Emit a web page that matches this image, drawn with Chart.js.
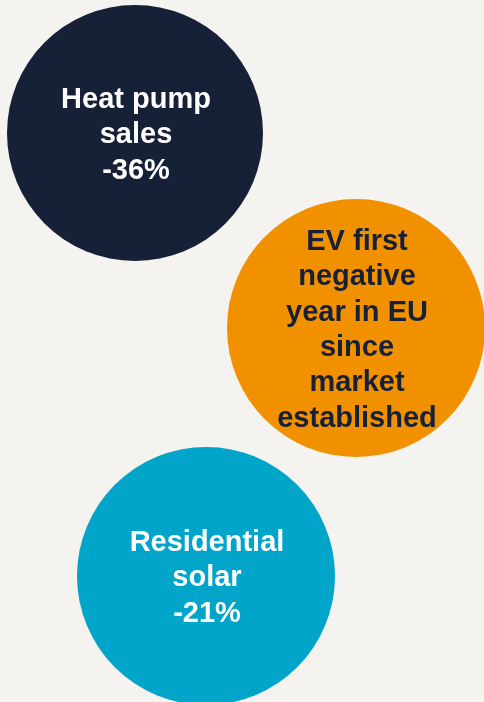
<!DOCTYPE html>
<html>
<head>
<meta charset="utf-8">
<script src="https://cdn.jsdelivr.net/npm/chart.js@4/dist/chart.umd.min.js"></script>
<style>
  html, body { margin: 0; padding: 0; background: #f4f3f0; }
  #wrap { width: 484px; height: 702px; position: relative; }
</style>
</head>
<body>
<div id="wrap"><canvas id="bubbles"></canvas></div>
<script>
// bubble centres and radii, in the chart's own units
const bubbleX = [135, 356, 206];
const bubbleY = [133, 328, 576];
const bubbleR = [128, 129, 129];
const bubbleLabels = [
    ['Heat pump', 'sales', '-36%'],
    ['EV first', 'negative', 'year in EU', 'since', 'market', 'established'],
    ['Residential', 'solar', '-21%']
];
const bubbleColors = ['#162036', '#f29100', '#00a5c9'];
const textColors   = ['#ffffff', '#162036', '#ffffff'];

const labelPlugin = {
    id: 'bubbleText',
    afterDatasetsDraw(chart){
        const ctx  = chart.ctx;
        const meta = chart.getDatasetMeta(0);
        const lh   = 35.3;
        ctx.save();
        ctx.font = 'bold 29px "Liberation Sans", Arial, sans-serif';
        ctx.textAlign = 'center';
        ctx.textBaseline = 'alphabetic';
        meta.data.forEach(function(pt, i){
            const lines = bubbleLabels[i];
            ctx.fillStyle = textColors[i];
            lines.forEach(function(line, j){
                const y = pt.y + (j - (lines.length - 1) / 2) * lh + 10.4;
                ctx.fillText(line, pt.x + 1, y);
            });
        });
        ctx.restore();
    }
};

const ctx = document.getElementById('bubbles').getContext('2d');
const chart = new Chart(ctx, {
    type: 'bubble',
    data: {
        datasets: [{
            data: bubbleX.map(function(x, i){ return {x: x, y: bubbleY[i], r: bubbleR[i]}; }),
            backgroundColor: bubbleColors,
            hoverBackgroundColor: bubbleColors,
            borderWidth: 0,
            hoverBorderWidth: 0,
            clip: false
        }]
    },
    options: {
        responsive: true,
        maintainAspectRatio: false,
        animation: false,
        events: [],
        layout: { padding: 0, autoPadding: false },
        plugins: { legend: { display: false }, tooltip: { enabled: false } },
        scales: {
            x: { type: 'linear', min: 0, max: 484, display: false },
            y: { type: 'linear', min: 0, max: 702, reverse: true, display: false }
        }
    },
    plugins: [labelPlugin]
});
</script>
</body>
</html>
